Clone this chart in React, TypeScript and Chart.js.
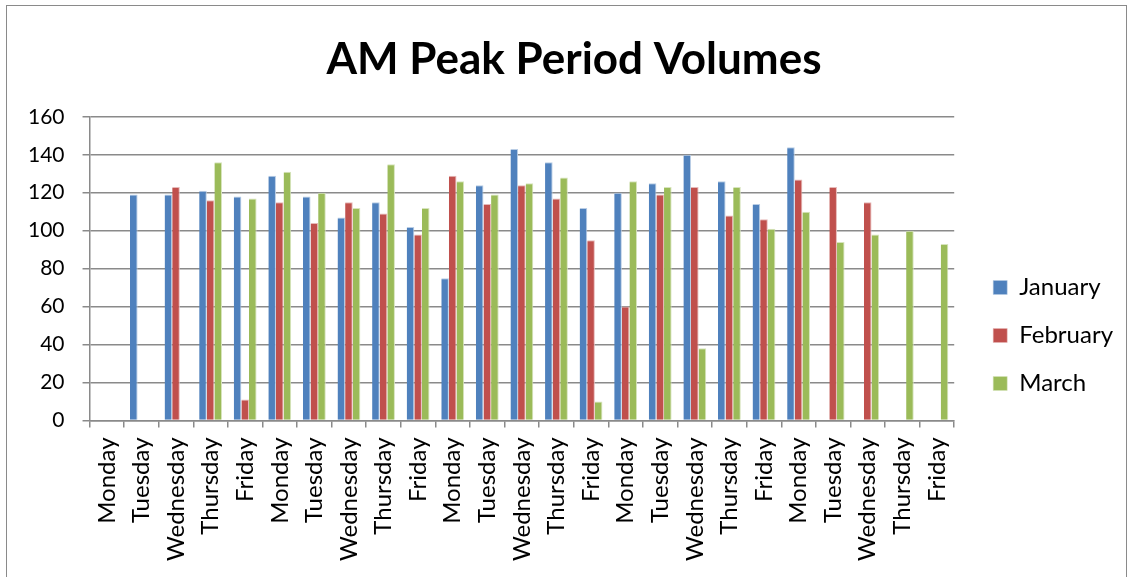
import React, { useEffect, useRef } from "react";
import { Chart, registerables } from "chart.js";

Chart.register(...registerables);

const days = ["Monday", "Tuesday", "Wednesday", "Thursday", "Friday"];
const categories = [...days, ...days, ...days, ...days, ...days];

const january = [null, 119, 119, 121, 118, 129, 118, 107, 115, 102, 75, 124, 143, 136, 112, 120, 125, 140, 126, 114, 144, null, null, null, null];
const february = [null, null, 123, 116, 11, 115, 104, 115, 109, 98, 129, 114, 124, 117, 95, 60, 119, 123, 108, 106, 127, 123, 115, null, null];
const march = [null, null, null, 136, 117, 131, 120, 112, 135, 112, 126, 119, 125, 128, 10, 126, 123, 38, 123, 101, 110, 94, 98, 100, 93];

const yTicks = [0, 20, 40, 60, 80, 100, 120, 140, 160];

const FONT = "Lato, 'Liberation Sans', sans-serif";

const shiftBoxes = {
  id: "shiftBoxes",
  afterLayout(chart: any) {
    const lg = chart.legend;
    if (lg) {
      const dx = 15;
      const dy = 50;
      lg.left += dx;
      lg.right += dx;
      lg.top += dy;
      lg.bottom += dy;
    }
    const tb = chart.titleBlock;
    if (tb) {
      tb.left += 15;
      tb.right += 15;
    }
  },
};

export default function App() {
  const ref = useRef<HTMLCanvasElement | null>(null);

  useEffect(() => {
    document.body.style.margin = "0";
    if (!ref.current) return;
    const bw = { left: 0, right: 1, top: 1, bottom: 0 } as any;
    const chart = new Chart(ref.current, {
      type: "bar",
      data: {
        labels: categories,
        datasets: [
          { label: "January", data: january, backgroundColor: "#4F81BD", borderColor: "#b9cde5", borderWidth: bw },
          { label: "February", data: february, backgroundColor: "#C0504D", borderColor: "#e6b9b8", borderWidth: bw },
          { label: "March", data: march, backgroundColor: "#9BBB59", borderColor: "#d7e4bd", borderWidth: bw },
        ],
      },
      options: {
        animation: false,
        responsive: false,
        maintainAspectRatio: false,
        layout: { padding: { left: 10, right: 22, top: 0, bottom: 6 } },
        datasets: { bar: { categoryPercentage: 0.66, barPercentage: 1 } },
        plugins: {
          title: {
            display: true,
            text: "AM Peak Period Volumes",
            color: "#000",
            font: { family: FONT, size: 44, weight: "bold" },
            padding: { top: 33, bottom: 31 },
          },
          legend: {
            position: "right",
            labels: {
              color: "#000",
              font: { family: FONT, size: 24 },
              boxWidth: 14,
              boxHeight: 14,
              padding: 24,
            },
          },
          tooltip: { enabled: false },
        },
        scales: {
          x: {
            grid: { drawOnChartArea: false, drawTicks: true, tickLength: 7, offset: true, color: "#8a8a8a", lineWidth: 1.5 },
            border: { display: true, color: "#8a8a8a", width: 1.5 },
            ticks: { color: "#000", font: { family: FONT, size: 24 }, minRotation: 90, maxRotation: 90, autoSkip: false, padding: 10 },
          },
          y: {
            min: 0,
            max: 160,
            afterBuildTicks: (axis: any) => {
              axis.ticks = yTicks.map((v) => ({ value: v }));
            },
            grid: { color: "#8a8a8a", lineWidth: 1.5, tickLength: 7 },
            border: { display: true, color: "#8a8a8a", width: 1.5 },
            ticks: { color: "#000", font: { family: FONT, size: 21 }, padding: 18 },
          },
        },
      },
      plugins: [shiftBoxes],
    });
    return () => chart.destroy();
  }, []);

  return (
    <div style={{ position: "relative", width: 1130, height: 577, background: "#fff", overflow: "hidden" }}>
      <canvas ref={ref} width={1130} height={577} style={{ position: "absolute", left: 0, top: 0, width: 1130, height: 577 }} />
      <div style={{ position: "absolute", left: 6, top: 5, width: 1121, height: 600, border: "1px solid #8a8a8a", boxSizing: "border-box", pointerEvents: "none" }} />
    </div>
  );
}
